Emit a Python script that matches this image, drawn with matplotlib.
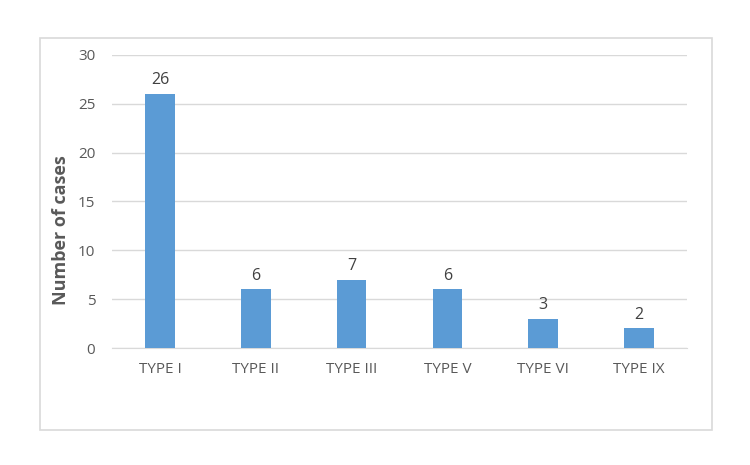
import matplotlib
matplotlib.use("Agg")
import matplotlib.pyplot as plt
from matplotlib.patches import Rectangle

categories = ["TYPE I", "TYPE II", "TYPE III", "TYPE V", "TYPE VI", "TYPE IX"]
values = [26, 6, 7, 6, 3, 2]
yticks = [0, 5, 10, 15, 20, 25, 30]

plt.rcParams['font.family'] = ['Open Sans', 'DejaVu Sans']
text_color = '#595959'

fig = plt.figure(figsize=(7.5, 4.65), dpi=100)
fig.patches.append(Rectangle((40/750, 1-430/465), 672/750, 392/465, transform=fig.transFigure,
                             fill=False, edgecolor='#d9d9d9', linewidth=1.2))
ax = fig.add_axes([112/750, 1-348/465, 575/750, 293/465])
x = list(range(len(categories)))
ax.bar(x, values, width=0.31, color='#5B9BD5', zorder=3)
for xi, v in zip(x, values):
    ax.text(xi, v + 0.6, str(v), ha='center', va='bottom', fontsize=11.5, color='#404040')
ax.set_xlim(-0.5, len(categories) - 0.5)
ax.set_ylim(0, 30)
ax.set_yticks(yticks)
ax.set_xticks(x)
ax.set_xticklabels(categories)
ax.tick_params(axis='both', length=0, labelsize=11, colors=text_color)
ax.tick_params(axis='x', pad=10)
ax.tick_params(axis='y', pad=12)
ax.grid(axis='y', color='#d9d9d9', linewidth=1, zorder=0)
for s in ['top', 'right', 'left']:
    ax.spines[s].set_visible(False)
ax.spines['bottom'].set_color('#d9d9d9')
fig.text(61/750, 1-230/465, "Number of cases", rotation=90, ha='center', va='center',
         fontsize=13, fontweight='bold', color=text_color)
fig.savefig("out.png", dpi=100)
